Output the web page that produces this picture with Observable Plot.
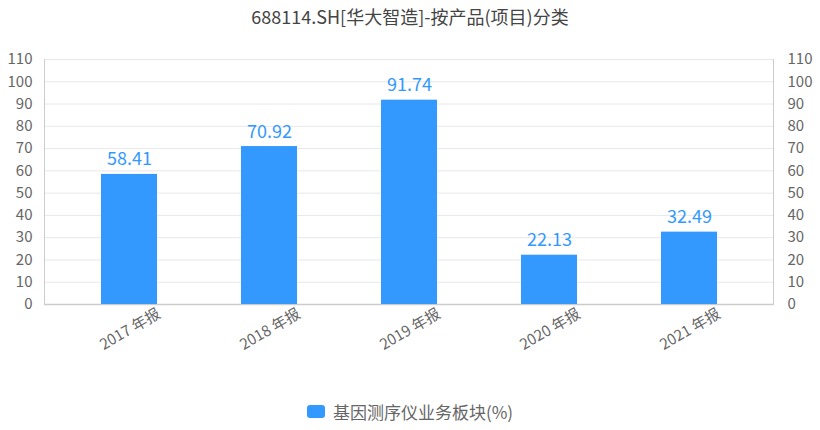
<!DOCTYPE html>
<html>
<head>
<meta charset="utf-8">
<script src="https://cdn.jsdelivr.net/npm/d3@7"></script>
<script src="https://cdn.jsdelivr.net/npm/@observablehq/plot@0.6"></script>
<style>
  body { margin: 0; background: #fff; font-family: "Noto Sans CJK SC", "Noto Sans", sans-serif; }
  #wrap { position: relative; width: 820px; height: 430px; }
  #title { position: absolute; top: 3px; left: 0; width: 820px; text-align: center; font-size: 18px; color: #444; }
  #legend { position: absolute; top: 399px; left: 0; width: 820px; display: flex; justify-content: center; align-items: center; font-size: 17px; color: #666; }
  #legend .sw { width: 18px; height: 13px; border-radius: 3px; background: #3399FF; margin-right: 8px; }
  #chart { position: absolute; top: 0; left: 0; }
</style>
</head>
<body>
<div id="wrap">
  <div id="chart"></div>
  <div id="title">688114.SH[华大智造]-按产品(项目)分类</div>
  <div id="legend"><span class="sw"></span><span>基因测序仪业务板块(%)</span></div>
</div>
<script>
const categories = ["2017 年报", "2018 年报", "2019 年报", "2020 年报", "2021 年报"];
const values = [58.41, 70.92, 91.74, 22.13, 32.49];
const yTicks = [0, 10, 20, 30, 40, 50, 60, 70, 80, 90, 100, 110];

const data = categories.map((c, i) => ({cat: c, value: values[i]}));
const color = "#3399FF";
const font = "'Noto Sans CJK SC', 'Noto Sans', sans-serif";

const chart = Plot.plot({
  width: 820,
  height: 430,
  marginLeft: 44,
  marginRight: 47,
  marginTop: 59,
  marginBottom: 126,
  style: {fontFamily: font, background: "transparent"},
  x: {domain: categories, inset: 14, paddingInner: 0.6, paddingOuter: 0.3, axis: null},
  y: {domain: [0, 110], axis: null},
  marks: [
    Plot.gridY(yTicks, {stroke: "#e8e8e8", strokeOpacity: 1}),
    Plot.frame({anchor: "left", stroke: "#cccccc"}),
    Plot.frame({anchor: "right", stroke: "#cccccc"}),
    Plot.ruleY([0], {stroke: "#cccccc", strokeWidth: 1.5}),
    Plot.barY(data, {x: "cat", y: "value", fill: color}),
    Plot.text(data, {x: "cat", y: "value", text: d => d.value.toFixed(2), lineAnchor: "bottom", dy: -9, fill: color, fontSize: 18}),
    Plot.axisY(yTicks, {anchor: "left", label: null, tickSize: 0, tickPadding: 12, fontSize: 15, fill: "#666", tickFormat: d => d}),
    Plot.axisY(yTicks, {anchor: "right", label: null, tickSize: 0, tickPadding: 14, fontSize: 15, fill: "#666", tickFormat: d => d}),
    Plot.text(data, {x: "cat", frameAnchor: "bottom", text: "cat", rotate: -30, dy: 29, dx: 3, textAnchor: "middle", fontSize: 15, fill: "#666"})
  ]
});
document.getElementById("chart").appendChild(chart);
</script>
</body>
</html>
